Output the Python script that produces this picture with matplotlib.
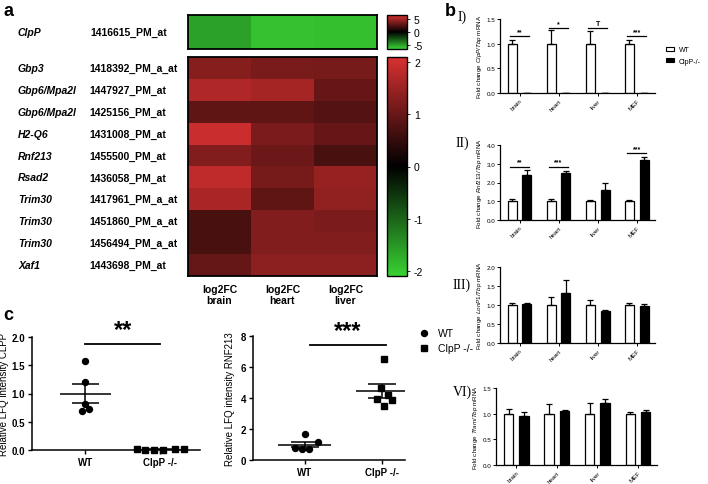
import numpy as np
import matplotlib
matplotlib.use('Agg')
import matplotlib.pyplot as plt
from matplotlib.colors import LinearSegmentedColormap
from matplotlib.patches import Patch
from matplotlib.lines import Line2D
from matplotlib.transforms import blended_transform_factory

plt.rcParams['font.family'] = ['Liberation Sans', 'DejaVu Sans']
plt.rcParams['mathtext.fontset'] = 'custom'
plt.rcParams['mathtext.rm'] = 'Liberation Sans'
plt.rcParams['mathtext.it'] = 'Liberation Sans:italic'
plt.rcParams['axes.unicode_minus'] = False

# ---- panel a data ----
fc_columns = ['log2FC\nbrain', 'log2FC\nheart', 'log2FC\nliver']
clpp_gene = 'ClpP'
clpp_probe = '1416615_PM_at'
clpp_fc = [-5.0, -6.05, -5.9]
genes = ['Gbp3', 'Gbp6/Mpa2l', 'Gbp6/Mpa2l', 'H2-Q6', 'Rnf213', 'Rsad2',
         'Trim30', 'Trim30', 'Trim30', 'Xaf1']
probes = ['1418392_PM_a_at', '1447927_PM_at', '1425156_PM_at', '1431008_PM_at',
          '1455500_PM_at', '1436058_PM_at', '1417961_PM_a_at', '1451860_PM_a_at',
          '1456494_PM_a_at', '1443698_PM_at']
log2fc = [[1.30, 1.17, 1.15],
          [1.70, 1.60, 1.00],
          [0.92, 0.92, 0.82],
          [1.95, 1.20, 1.00],
          [1.25, 1.05, 0.72],
          [1.85, 1.15, 1.45],
          [1.65, 0.92, 1.40],
          [0.72, 1.25, 1.20],
          [0.72, 1.25, 1.25],
          [0.97, 1.35, 1.35]]

# ---- panel b data ----
tissues = ['brain', 'heart', 'liver', 'MEF']
b_panels = [
    dict(tag='I)', gene='ClpP/Tbp', ymax=1.5, ystep=0.5,
         wt=[1.0, 1.0, 1.0, 1.0], wt_err=[0.07, 0.27, 0.25, 0.07],
         ko=[0.0, 0.0, 0.0, 0.0], ko_err=[0.0, 0.0, 0.0, 0.0],
         sig=[('**', 0, 1.15), ('*', 1, 1.32), ('T', 2, 1.32), ('***', 3, 1.15)]),
    dict(tag='II)', gene='Rnf213/Tbp', ymax=4.0, ystep=1.0,
         wt=[1.0, 1.0, 1.0, 1.0], wt_err=[0.12, 0.10, 0.05, 0.05],
         ko=[2.4, 2.5, 1.6, 3.2], ko_err=[0.25, 0.10, 0.35, 0.17],
         sig=[('**', 0, 2.85), ('***', 1, 2.85), ('***', 3, 3.55)]),
    dict(tag='III)', gene='LonP1/Tbp', ymax=2.0, ystep=0.5,
         wt=[1.0, 1.0, 1.0, 1.0], wt_err=[0.05, 0.20, 0.12, 0.05],
         ko=[1.02, 1.32, 0.85, 0.98], ko_err=[0.02, 0.35, 0.02, 0.05],
         sig=[]),
    dict(tag='VI)', gene='Tfam/Tbp', ymax=1.5, ystep=0.5,
         wt=[1.0, 1.0, 1.0, 1.0], wt_err=[0.10, 0.19, 0.21, 0.03],
         ko=[0.96, 1.06, 1.21, 1.04], ko_err=[0.07, 0.01, 0.08, 0.04],
         sig=[]),
]

# ---- panel c data ----
groups = ['WT', 'ClpP -/-']
clpp_wt = [1.57, 1.20, 0.82, 0.72, 0.69]
clpp_wt_dx = [0.0, 0.0, 0.0, 0.045, -0.045]
clpp_ko = [0.01, 0.0, 0.0, 0.0, 0.01, 0.02]
clpp_ko_dx = [-0.31, -0.21, -0.09, 0.03, 0.19, 0.31]
rnf_wt = [1.68, 1.14, 0.75, 0.70, 0.72]
rnf_wt_dx = [0.01, 0.17, -0.13, -0.03, 0.06]
rnf_ko = [6.52, 4.62, 4.17, 3.94, 3.85, 3.50]
rnf_ko_dx = [0.03, -0.01, 0.08, -0.06, 0.13, 0.03]

W, H = 708, 485
fig = plt.figure(figsize=(W / 100, H / 100), dpi=100)


def box(x0, y0, x1, y1):
    return [x0 / W, 1 - y1 / H, (x1 - x0) / W, (y1 - y0) / H]


cmap = LinearSegmentedColormap.from_list(
    'gbr', [(0.22, 0.82, 0.20), (0, 0, 0), (0.85, 0.19, 0.19)])

# ---------------- panel a ----------------
fig.text(3 / W, 1 - 12 / H, 'a', fontsize=13, fontweight='bold', va='center')

ax_top = fig.add_axes(box(188, 16, 377, 50))
im_top = ax_top.imshow(np.array([clpp_fc]), cmap=cmap, vmin=-6.5, vmax=6.5,
                       aspect='auto')
ax_top.set_xticks([])
ax_top.set_yticks([])

ax_hm = fig.add_axes(box(188, 58, 377, 277))
im_hm = ax_hm.imshow(np.array(log2fc), cmap=cmap, vmin=-2.1, vmax=2.1,
                     aspect='auto')
ax_hm.set_yticks([])
ax_hm.set_xticks(range(len(fc_columns)))
ax_hm.set_xticklabels(fc_columns, fontsize=7.5, fontweight='bold',
                      linespacing=1.1)
ax_hm.tick_params(axis='x', length=0, pad=6)

for a in (ax_top, ax_hm):
    for s in a.spines.values():
        s.set_linewidth(1.3)

tr_top = blended_transform_factory(fig.transFigure, ax_top.transData)
ax_top.text(18 / W, 0, clpp_gene, transform=tr_top, fontsize=7.5,
            fontweight='bold', style='italic', va='center')
ax_top.text(90 / W, 0, clpp_probe, transform=tr_top, fontsize=7.5,
            fontweight='bold', va='center')
tr_hm = blended_transform_factory(fig.transFigure, ax_hm.transData)
for i, (g, p) in enumerate(zip(genes, probes)):
    ax_hm.text(18 / W, i, g, transform=tr_hm, fontsize=7.5,
               fontweight='bold', style='italic', va='center')
    ax_hm.text(89 / W, i, p, transform=tr_hm, fontsize=7.5,
               fontweight='bold', va='center')

cax1 = fig.add_axes(box(387, 16, 407, 50))
cb1 = fig.colorbar(im_top, cax=cax1, ticks=[5, 0, -5])
cax2 = fig.add_axes(box(387, 58, 407, 277))
cb2 = fig.colorbar(im_hm, cax=cax2, ticks=[2, 1, 0, -1, -2])
for cb in (cb1, cb2):
    cb.ax.tick_params(labelsize=7.5, length=2, width=0.6, pad=3)
    cb.outline.set_linewidth(1.0)

# ---------------- panel b ----------------
fig.text(445 / W, 1 - 12 / H, 'b', fontsize=13, fontweight='bold', va='center')
b_boxes = [(500, 20, 655, 94), (500, 146, 655, 221),
           (500, 268, 655, 344), (496, 389, 657, 466)]
b_tags_y = [17, 143, 285, 392]
x = np.arange(len(tissues))
bw, off = 0.23, 0.19
for p, bx, ty in zip(b_panels, b_boxes, b_tags_y):
    ax = fig.add_axes(box(*bx))
    ax.bar(x - off, p['wt'], bw, color='white', edgecolor='black', lw=0.9,
           yerr=[[0] * 4, p['wt_err']], capsize=2,
           error_kw=dict(elinewidth=0.9, capthick=0.9))
    ax.bar(x + off, p['ko'], bw, color='black', edgecolor='black', lw=0.9,
           yerr=[[0] * 4, p['ko_err']], capsize=2,
           error_kw=dict(elinewidth=0.9, capthick=0.9))
    for label, gi, yv in p['sig']:
        ax.plot([gi - off - 0.05, gi + off + 0.05], [yv, yv], color='black',
                lw=0.9, clip_on=False)
        ax.text(gi, yv + p['ymax'] * 0.015, label, ha='center', va='bottom',
                fontsize=5, fontweight='bold', clip_on=False)
    ax.set_xlim(-0.5, 3.47)
    ax.set_ylim(0, p['ymax'])
    ax.set_yticks(np.arange(0, p['ymax'] + 0.001, p['ystep']))
    ax.set_yticklabels(['%.1f' % v for v in ax.get_yticks()], fontsize=4.5)
    ax.set_xticks(x)
    ax.set_xticklabels(tissues, fontsize=4.5, rotation=45, ha='right',
                       rotation_mode='anchor')
    ax.tick_params(length=2, width=0.7, pad=1.5)
    for s in ('top', 'right'):
        ax.spines[s].set_visible(False)
    for s in ('left', 'bottom'):
        ax.spines[s].set_linewidth(0.9)
    ax.set_ylabel(r'Fold change $\it{%s}$ mRNA' % p['gene'], fontsize=4.5,
                  labelpad=2)
    fig.text(462 / W, 1 - ty / H, p['tag'], fontsize=10,
             family='Liberation Serif', ha='center', va='center')

fig.legend(handles=[Patch(facecolor='white', edgecolor='black', lw=0.8),
                    Patch(facecolor='black', edgecolor='black', lw=0.8)],
           labels=['WT', 'ClpP-/-'], loc='upper left',
           bbox_to_anchor=(663 / W, 1 - 44 / H), frameon=False, fontsize=5,
           handlelength=1.1, handleheight=0.6, handletextpad=0.7,
           labelspacing=0.6, borderpad=0)

# ---------------- panel c ----------------
fig.text(3 / W, 1 - 316 / H, 'c', fontsize=13, fontweight='bold', va='center')


def dot_plot(ax, wt, wt_dx, ko, ko_dx):
    ax.plot(np.array(wt_dx), wt, 'o', color='black', ms=4.3, clip_on=False,
            zorder=3)
    ax.plot(1 + np.array(ko_dx), ko, 's', color='black', ms=4.3,
            clip_on=False, zorder=3)
    for gx, vals in ((0, wt), (1, ko)):
        vals = np.array(vals)
        m = vals.mean()
        sem = vals.std(ddof=1) / np.sqrt(len(vals))
        ax.hlines(m, gx - 0.34, gx + 0.34, color='black', lw=1.1)
        ax.hlines([m - sem, m + sem], gx - 0.18, gx + 0.18, color='black',
                  lw=1.1)
        ax.vlines(gx, m - sem, m + sem, color='black', lw=1.1)
    ax.set_xticks([0, 1])
    ax.set_xticklabels(groups, fontsize=7.5, fontweight='bold')
    for s in ('top', 'right'):
        ax.spines[s].set_visible(False)
    for s in ('left', 'bottom'):
        ax.spines[s].set_linewidth(1.1)
    ax.tick_params(length=3, width=1.0, labelsize=7, pad=2)


c1 = fig.add_axes(box(32, 338, 200, 451))
dot_plot(c1, clpp_wt, clpp_wt_dx, clpp_ko, clpp_ko_dx)
c1.set_xlim(-0.71, 1.53)
c1.set_ylim(0, 2.0)
c1.set_yticks([0, 0.5, 1.0, 1.5, 2.0])
c1.set_yticklabels(['0.0', '0.5', '1.0', '1.5', '2.0'], fontweight='bold')
c1.set_ylabel('Relative LFQ intensity CLPP', fontsize=7, labelpad=2)
c1.plot([0, 1], [1.87, 1.87], color='black', lw=1.3, clip_on=False)
c1.text(0.5, 1.93, '**', ha='center', va='bottom', fontsize=17,
        fontweight='bold')

c2 = fig.add_axes(box(253, 337, 405, 461))
dot_plot(c2, rnf_wt, rnf_wt_dx, rnf_ko, rnf_ko_dx)
c2.set_xlim(-0.67, 1.3)
c2.set_ylim(0, 8)
c2.set_yticks([0, 2, 4, 6, 8])
c2.set_yticklabels(['0', '2', '4', '6', '8'], fontweight='bold')
c2.set_ylabel('Relative LFQ intensity RNF213', fontsize=7, labelpad=4)
c2.plot([0.07, 1.05], [7.42, 7.42], color='black', lw=1.3, clip_on=False)
c2.text(0.56, 7.6, '***', ha='center', va='bottom', fontsize=17,
        fontweight='bold')
c2.legend(handles=[Line2D([], [], ls='', marker='o', color='black', ms=4.3),
                   Line2D([], [], ls='', marker='s', color='black', ms=4.3)],
          labels=groups, loc='upper left', frameon=False, fontsize=7.5,
          bbox_to_anchor=(414 / W, 1 - 324 / H),
          bbox_transform=fig.transFigure, handletextpad=0.8, labelspacing=0.5,
          borderpad=0, handlelength=1.0)

fig.savefig('out.png', dpi=100)
